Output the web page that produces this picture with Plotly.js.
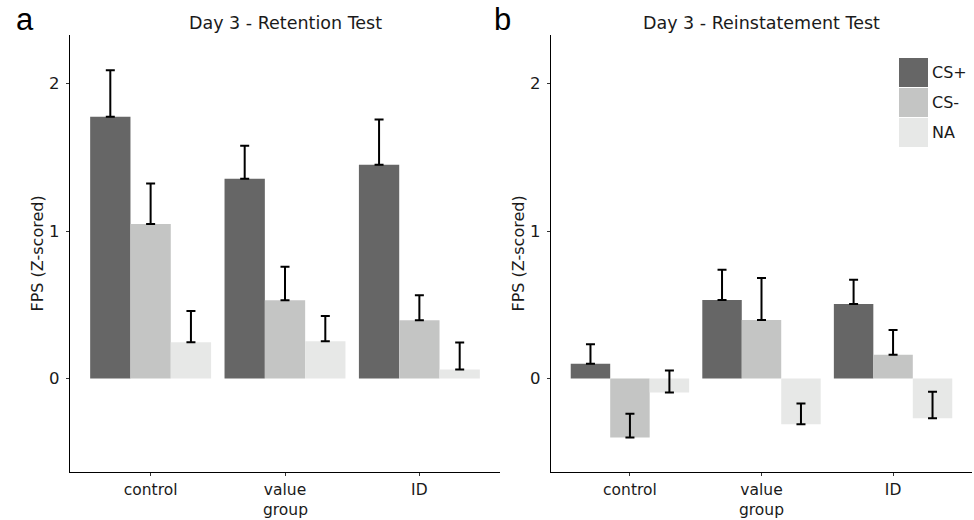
<!DOCTYPE html>
<html>
<head>
<meta charset="utf-8">
<script src="https://cdn.plot.ly/plotly-3.0.1.min.js"></script>
<style>
  html, body { margin: 0; padding: 0; background: #ffffff; }
  #chart { width: 974px; height: 520px; }
</style>
</head>
<body>
<div id="chart"></div>
<script>
// ---- data ----
const groups = ['control', 'value', 'ID'];
const conditions = ['CS+', 'CS-', 'NA'];
const condColors = ['#666666', '#C4C5C4', '#E7E8E7'];

// Day 3 - Retention Test (mean, standard error)
const retentionCSplus = [1.776, 1.354, 1.449];
const retentionCSminus = [1.048, 0.531, 0.395];
const retentionNA = [0.245, 0.252, 0.061];
const retentionCSplusSE = [0.315, 0.224, 0.308];
const retentionCSminusSE = [0.274, 0.226, 0.170];
const retentionNASE = [0.213, 0.172, 0.182];

// Day 3 - Reinstatement Test (mean, standard error)
const reinstCSplus = [0.099, 0.532, 0.505];
const reinstCSminus = [-0.401, 0.397, 0.160];
const reinstNA = [-0.095, -0.311, -0.271];
const reinstCSplusSE = [0.133, 0.205, 0.165];
const reinstCSminusSE = [0.162, 0.284, 0.169];
const reinstNASE = [0.149, 0.140, 0.181];

const panelTitles = ['Day 3 - Retention Test', 'Day 3 - Reinstatement Test'];
const panelLetters = ['a', 'b'];
const yTitle = 'FPS (Z-scored)';
const xTitle = 'group';
const yTicks = [0, 1, 2];

// ---- build ----
const FONT = 'DejaVu Sans, Verdana, sans-serif';
const W = 974, H = 520;
const px = v => v / W;
const py = v => 1 - v / H;

const xDom1 = [px(70), px(500)];
const xDom2 = [px(551), px(972)];
const yDom = [py(472), py(35)];

const retentionMeans = [retentionCSplus, retentionCSminus, retentionNA];
const retentionSEs = [retentionCSplusSE, retentionCSminusSE, retentionNASE];
const reinstMeans = [reinstCSplus, reinstCSminus, reinstNA];
const reinstSEs = [reinstCSplusSE, reinstCSminusSE, reinstNASE];

function barTrace(i, means, ses, xa, ya) {
  return {
    type: 'bar',
    name: conditions[i],
    x: groups,
    y: means,
    xaxis: xa,
    yaxis: ya,
    marker: { color: condColors[i], line: { width: 0 } },
    error_y: {
      type: 'data',
      symmetric: false,
      array: ses,
      arrayminus: ses.map(() => 0),
      color: '#000000',
      thickness: 2,
      width: 4.5
    },
    showlegend: false,
    hoverinfo: 'skip'
  };
}

const data = [];
for (let i = 0; i < conditions.length; i++) {
  data.push(barTrace(i, retentionMeans[i], retentionSEs[i], 'x', 'y'));
}
for (let i = 0; i < conditions.length; i++) {
  data.push(barTrace(i, reinstMeans[i], reinstSEs[i], 'x2', 'y2'));
}

const tickFont = { family: FONT, size: 15.5, color: '#1a1a1a' };

function xAxis(domain, anchor) {
  return {
    domain: domain,
    anchor: anchor,
    type: 'category',
    categoryorder: 'array',
    categoryarray: groups,
    range: [-0.6, 2.6],
    showline: true,
    linecolor: '#000000',
    linewidth: 1.3,
    ticks: 'outside',
    ticklen: 3,
    tickwidth: 1,
    tickcolor: '#333333',
    tickfont: tickFont,
    showgrid: false,
    zeroline: false,
    fixedrange: true
  };
}
function yAxis(anchor) {
  return {
    domain: yDom,
    anchor: anchor,
    range: [-0.635, 2.33],
    tickmode: 'array',
    tickvals: yTicks,
    ticktext: yTicks.map(String),
    showline: true,
    linecolor: '#000000',
    linewidth: 1.3,
    ticks: 'outside',
    ticklen: 3,
    tickwidth: 1,
    tickcolor: '#333333',
    tickfont: { family: FONT, size: 16.5, color: '#1a1a1a' },
    ticklabelstandoff: 3,
    showgrid: false,
    zeroline: false,
    fixedrange: true
  };
}

const annotations = [];
const doms = [xDom1, xDom2];
const letterX = [14, 492];
for (let p = 0; p < 2; p++) {
  const cx = (doms[p][0] + doms[p][1]) / 2;
  annotations.push({
    text: panelTitles[p], xref: 'paper', yref: 'paper',
    x: cx, y: py(23), xanchor: 'center', yanchor: 'middle',
    showarrow: false, font: { family: FONT, size: 17.5, color: '#1a1a1a' }
  });
  annotations.push({
    text: xTitle, xref: 'paper', yref: 'paper',
    x: cx, y: py(510), xanchor: 'center', yanchor: 'middle',
    showarrow: false, font: { family: FONT, size: 15.5, color: '#1a1a1a' }
  });
  annotations.push({
    text: yTitle, xref: 'paper', yref: 'paper',
    x: doms[p][0] - px(33), y: (yDom[0] + yDom[1]) / 2,
    xanchor: 'center', yanchor: 'middle', textangle: -90,
    showarrow: false, font: { family: FONT, size: 16, color: '#1a1a1a' }
  });
  annotations.push({
    text: panelLetters[p], xref: 'paper', yref: 'paper',
    x: px(letterX[p]), y: py(20), xanchor: 'left', yanchor: 'middle',
    showarrow: false, font: { family: 'Liberation Sans, Arial, sans-serif', size: 31, color: '#000000' }
  });
}

// legend (drawn as keys + labels in the right panel)
const shapes = [];
const keyX0 = 899, keyX1 = 928, keyTop = 58, keyH = 29, keyStep = 30;
for (let i = 0; i < conditions.length; i++) {
  const top = keyTop + i * keyStep;
  shapes.push({
    type: 'rect', xref: 'paper', yref: 'paper',
    x0: px(keyX0), x1: px(keyX1), y0: py(top + keyH), y1: py(top),
    fillcolor: condColors[i], line: { width: 0 }
  });
  annotations.push({
    text: conditions[i], xref: 'paper', yref: 'paper',
    x: px(930), y: py(top + keyH / 2), xanchor: 'left', yanchor: 'middle',
    showarrow: false, font: { family: FONT, size: 16, color: '#1a1a1a' }
  });
}

const layout = {
  width: W,
  height: H,
  margin: { l: 0, r: 0, t: 0, b: 0, pad: 0 },
  paper_bgcolor: '#ffffff',
  plot_bgcolor: '#ffffff',
  barmode: 'group',
  bargap: 0.1,
  bargroupgap: 0,
  showlegend: false,
  hovermode: false,
  xaxis: xAxis(xDom1, 'y'),
  yaxis: yAxis('x'),
  xaxis2: xAxis(xDom2, 'y2'),
  yaxis2: yAxis('x2'),
  annotations: annotations,
  shapes: shapes
};

Plotly.newPlot('chart', data, layout, { displayModeBar: false, staticPlot: true });
</script>
</body>
</html>
